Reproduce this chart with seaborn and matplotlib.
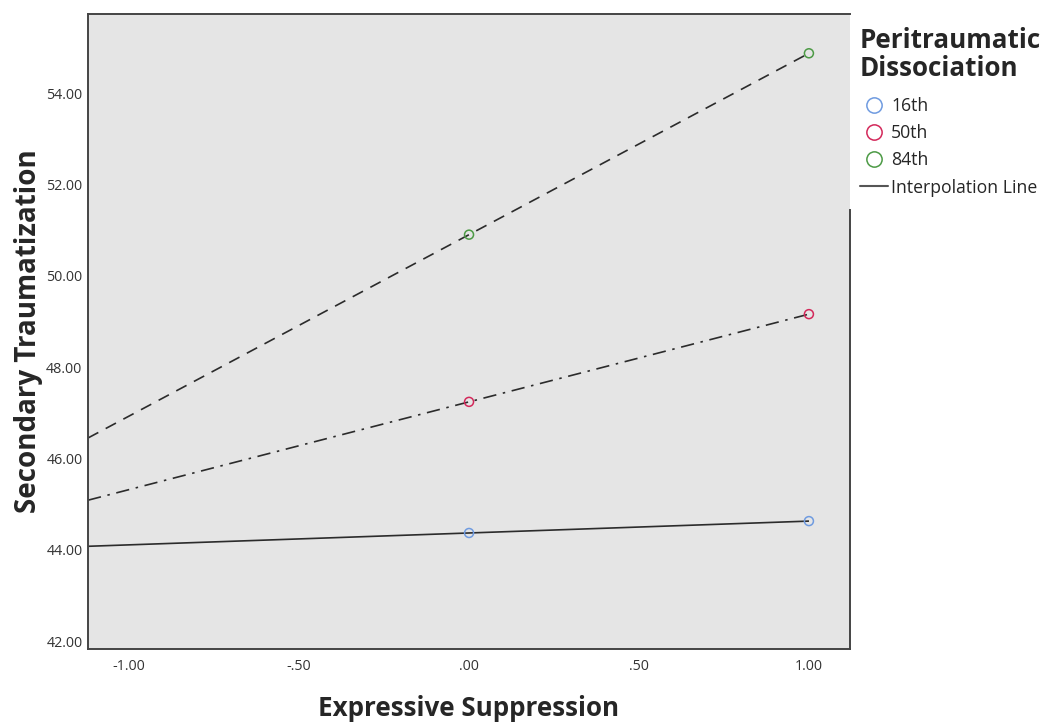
import numpy as np
import pandas as pd
import seaborn as sns
import matplotlib
matplotlib.use('Agg')
import matplotlib.pyplot as plt
from matplotlib.lines import Line2D
from matplotlib.patches import Rectangle

# data
x_vals = [0.0, 1.0]
groups = ['16th', '50th', '84th']
y_16th = [44.37, 44.63]
y_50th = [47.24, 49.16]
y_84th = [50.90, 54.87]
x_ticks = [-1.0, -0.5, 0.0, 0.5, 1.0]
x_tick_labels = ['-1.00', '-.50', '.00', '.50', '1.00']
y_ticks = [42, 44, 46, 48, 50, 52, 54]
y_tick_labels = ['42.00', '44.00', '46.00', '48.00', '50.00', '52.00', '54.00']

marker_colors = ['#6f9be0', '#d3285a', '#4c9a45']
line_styles = ['-', (0, (8, 4, 1.5, 4)), (0, (7, 5))]

df = pd.DataFrame({
    'x': x_vals * 3,
    'y': y_16th + y_50th + y_84th,
    'group': [g for g in groups for _ in x_vals],
})

sns.set_style('white')
plt.rcParams['font.family'] = ['Open Sans', 'DejaVu Sans']

fig = plt.figure(figsize=(10.43, 7.25), dpi=100)
ax = fig.add_axes([0.0844, 0.1048, 0.7306, 0.8759])
ax.set_facecolor('#e5e5e5')

xmin, xmax = -1.121, 1.121
ymin, ymax = 41.83, 55.73

for g, col, ls in zip(groups, marker_colors, line_styles):
    sub = df[df['group'] == g]
    pts = sub[['x', 'y']].to_numpy()
    ln = ax.axline(tuple(pts[0]), tuple(pts[1]), color='#2b2b2b', lw=1.2, ls=ls, zorder=2)
    # interpolation line stops at the last observed x
    clip = Rectangle((xmin, ymin), pts[-1, 0] - xmin, ymax - ymin, transform=ax.transData)
    ln.set_clip_path(clip)
    sns.scatterplot(data=sub, x='x', y='y', ax=ax, marker='o', s=42,
                    facecolor='none', edgecolor=col, linewidth=1.1, zorder=3,
                    legend=False)

ax.set_xlim(xmin, xmax)
ax.set_ylim(ymin, ymax)
ax.set_xticks(x_ticks)
ax.set_xticklabels(x_tick_labels)
ax.set_yticks(y_ticks)
ax.set_yticklabels(y_tick_labels)
ax.tick_params(axis='both', length=0, labelsize=10.3, colors='#333333')
ax.tick_params(axis='x', pad=7)
ax.tick_params(axis='y', pad=4)

ax.set_xlabel('Expressive Suppression', fontsize=18.7, fontweight='bold', labelpad=15)
ax.set_ylabel('Secondary Traumatization', fontsize=20, fontweight='bold', labelpad=2)

for s in ax.spines.values():
    s.set_color('#444444')
    s.set_linewidth(1.4)
ax.spines['right'].set_bounds(ymin, 51.43)

handles = [Line2D([], [], ls='none', marker='o', markersize=11, mfc='none',
                  mec=c, mew=1.1) for c in marker_colors]
handles.append(Line2D([], [], color='#555555', lw=1.5))
labels = groups + ['Interpolation Line']
leg = fig.legend(handles, labels, title='Peritraumatic\nDissociation',
                 loc='upper left', bbox_to_anchor=(0.8245, 0.963), frameon=False,
                 fontsize=12.7, handlelength=1.6, handletextpad=0.17,
                 labelspacing=0.52, borderaxespad=0, borderpad=0)
leg.get_title().set_fontsize(18.7)
leg.get_title().set_fontweight('bold')
leg.get_title().set_linespacing(1.05)
leg._legend_box.align = 'left'
leg._legend_box.sep = 11

plt.savefig('out.png', dpi=100)
